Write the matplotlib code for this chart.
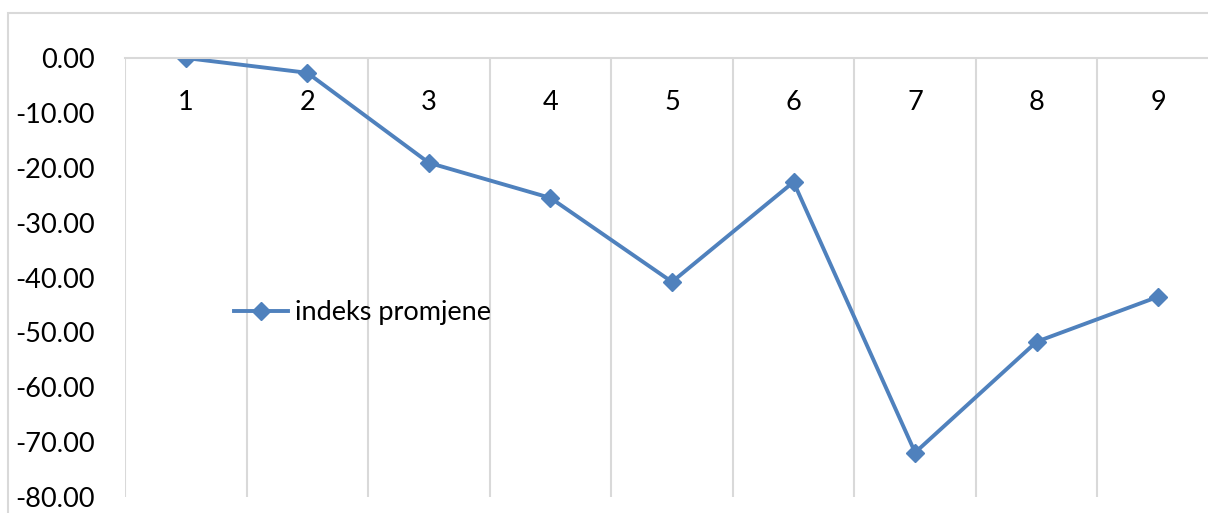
import numpy as np
import matplotlib.pyplot as plt
from matplotlib.patches import Rectangle
from matplotlib.ticker import FormatStrFormatter

plt.rcParams['font.family'] = ['Lato', 'DejaVu Sans']

# data
categories = [1, 2, 3, 4, 5, 6, 7, 8, 9]
index_change = [0.0, -2.7, -19.1, -25.5, -40.8, -22.6, -71.9, -51.7, -43.5]
y_ticks = [0, -10, -20, -30, -40, -50, -60, -70, -80]

line_color = "#4F81BD"
grid_color = "#D9D9D9"
fs = 19.5

W, H = 1208, 513
fig = plt.figure(figsize=(W / 100, H / 100), dpi=100)

# outer chart border (runs off the right and bottom edges)
fig.patches.append(Rectangle((8 / W, -0.1), 1.2, 1 - 13 / H + 0.1,
                             transform=fig.transFigure, fill=False,
                             edgecolor=grid_color, linewidth=1.5))

ax = fig.add_axes([125 / W, 1 - 497 / H, (1219 - 125) / W, (497 - 58) / H])

ax.plot(categories, index_change, color=line_color, linewidth=2.8,
        marker="D", markersize=9.5, label="indeks promjene")

ax.set_xlim(0.5, 9.5)
ax.set_ylim(-80, 0)

# vertical gridlines between categories
ax.set_xticks(np.arange(0.5, 10, 1), minor=True)
ax.grid(which="minor", axis="x", color=grid_color, linewidth=1.5)
ax.tick_params(which="minor", length=0)

for s in ["left", "right", "bottom"]:
    ax.spines[s].set_visible(False)
ax.spines["top"].set_color(grid_color)
ax.spines["top"].set_linewidth(1.5)

ax.xaxis.tick_top()
ax.set_xticks(categories)
ax.tick_params(axis="x", which="major", length=0, pad=-41, labelsize=fs)

ax.set_yticks(y_ticks)
ax.yaxis.set_major_formatter(FormatStrFormatter("%.2f"))
ax.tick_params(axis="y", length=0, pad=22, labelsize=fs)

ax.legend(loc="center left", bbox_to_anchor=(0.077, 0.42), frameon=False,
          fontsize=fs, handlelength=2.0, handletextpad=0.25)

fig.savefig("out.png", dpi=100)
